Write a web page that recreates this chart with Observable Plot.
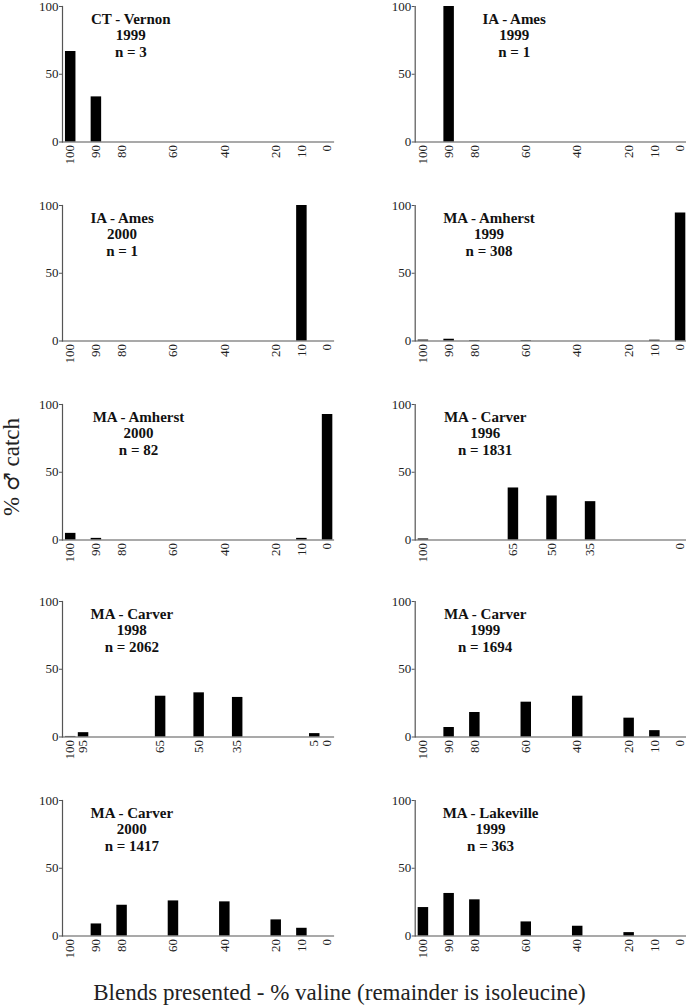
<!DOCTYPE html>
<html>
<head>
<meta charset="utf-8">
<script src="https://cdn.jsdelivr.net/npm/d3@7"></script>
<script src="https://cdn.jsdelivr.net/npm/@observablehq/plot@0.6"></script>
<style>
  html, body { margin: 0; padding: 0; background: #fff; }
  #wrap { position: relative; width: 686px; height: 1005px; overflow: hidden;
          font-family: 'Liberation Serif', 'Times New Roman', serif; color: #222; }
  .panel { position: absolute; }
  .panel svg { overflow: visible; font-family: 'Liberation Serif', 'Times New Roman', serif !important; }
  .panel svg text { font-family: 'Liberation Serif', 'Times New Roman', serif !important; }
  #ylab { position: absolute; left: 11.5px; top: 467px; font-size: 23px; line-height: 17px;
          white-space: nowrap; transform: translate(-50%, -50%) rotate(-90deg); }
  #ylab .sym { font-family: 'DejaVu Sans', sans-serif; font-size: 21px; }
  #xlab { position: absolute; left: -3.5px; width: 686px; top: 980.7px; font-size: 23px; line-height: 23px;
          text-align: center; white-space: nowrap; }
</style>
</head>
<body>
<div id="wrap">
  <div id="ylab">% <span class="sym">♂</span> catch</div>
  <div id="xlab">Blends presented - % valine (remainder is isoleucine)</div>
</div>
<script>
// ---------- data ----------
const sites  = ["CT - Vernon", "IA - Ames", "IA - Ames", "MA - Amherst", "MA - Amherst",
                "MA - Carver", "MA - Carver", "MA - Carver", "MA - Carver", "MA - Lakeville"];
const years  = [1999, 1999, 2000, 1999, 2000, 1996, 1998, 1999, 2000, 1999];
const counts = [3, 1, 1, 308, 82, 1831, 2062, 1694, 1417, 363];

// % valine of each blend that caught males, per panel
const blends = [
  [100, 90],
  [90],
  [10],
  [100, 90, 80, 60, 10, 0],
  [100, 90, 10, 0],
  [100, 65, 50, 35],
  [100, 95, 65, 50, 35, 5],
  [90, 80, 60, 40, 20, 10],
  [90, 80, 60, 40, 20, 10],
  [100, 90, 80, 60, 40, 20]
];
// % male catch for each blend
const catchPct = [
  [66.7, 33.3],
  [100],
  [100],
  [0.7, 1.3, 0.3, 0.3, 0.6, 94.5],
  [4.9, 1.2, 1.2, 92.7],
  [0.8, 38.4, 32.5, 28.3],
  [0.4, 3.2, 30.1, 32.6, 29.2, 2.5],
  [7.0, 18.1, 25.7, 30.1, 13.9, 4.7],
  [8.9, 22.7, 25.9, 25.2, 11.9, 5.7],
  [21.0, 31.4, 26.7, 10.4, 7.2, 2.5]
];

const standardTicks   = [100, 90, 80, 60, 40, 20, 10, 0];
const carver1996Ticks = [100, 65, 50, 35, 0];
const carver1998Ticks = [100, 95, 65, 50, 35, 5, 0];
const panelTicks = [standardTicks, standardTicks, standardTicks, standardTicks, standardTicks,
                    carver1996Ticks, carver1998Ticks, standardTicks, standardTicks, standardTicks];
const yTicks = [0, 50, 100];

// ---------- layout ----------
const titleX   = [76.4, 64.5, 79.8, 74.3, 73.4, 75.8, 76.0, 75.8, 76.0, 73.7]; // label centre, in x units
const rowTop   = [0, 199, 398, 595, 794];
const colLeft  = [0, 343];
const colMarginLeft  = [62, 71.7];
const colMarginRight = [10, 0];
const plotH = 135.5, mTop = 6, mBottom = 43.5;
const axisColor = "#555";
const serif = "'Liberation Serif', 'Times New Roman', serif";

const wrap = document.getElementById("wrap");

sites.forEach((site, i) => {
  const col = i % 2, row = Math.floor(i / 2);
  const rows = blends[i].map((b, j) => ({blend: b, pct: catchPct[i][j]}));
  const title = [{x: titleX[i], text: `${site}\n${years[i]}\nn = ${counts[i]}`}];

  const chart = Plot.plot({
    width: 343,
    height: mTop + plotH + mBottom,
    marginTop: mTop,
    marginBottom: mBottom,
    marginLeft: colMarginLeft[col],
    marginRight: colMarginRight[col],
    x: {domain: [103, -2.5], axis: null},
    y: {domain: [0, 100], axis: null},
    style: {fontFamily: serif, fontSize: "13px", color: "#222", background: "transparent"},
    marks: [
      Plot.ruleX(rows, {x: "blend", y1: 0, y2: "pct", stroke: "black", strokeWidth: 10.5}),
      Plot.frame({anchor: "left", stroke: axisColor, strokeWidth: 1.2}),
      Plot.frame({anchor: "bottom", stroke: axisColor, strokeWidth: 1.2}),
      Plot.axisY({ticks: yTicks, tickSize: 3, tickPadding: 1, stroke: axisColor, label: null,
                  fontSize: 13, fontFamily: serif}),
      Plot.axisX({ticks: panelTicks[i], tickSize: 0, tickPadding: 3, tickRotate: -90, label: null,
                  fontSize: 13, fontFamily: serif}),
      Plot.text(title, {x: "x", text: "text", frameAnchor: "top", lineAnchor: "top", dy: 5.5,
                        fontWeight: "bold", fontSize: 15, lineHeight: 1.1, fill: "#111", fontFamily: serif})
    ]
  });
  const div = document.createElement("div");
  div.className = "panel";
  div.style.left = colLeft[col] + "px";
  div.style.top = rowTop[row] + "px";
  div.appendChild(chart);
  wrap.appendChild(div);
});
</script>
</body>
</html>
